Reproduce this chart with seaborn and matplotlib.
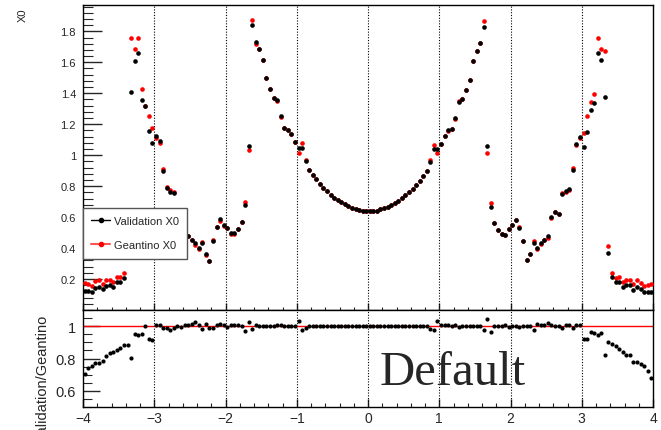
import numpy as np
import pandas as pd
import matplotlib
matplotlib.use("Agg")
import matplotlib.pyplot as plt
from matplotlib.lines import Line2D
from matplotlib.ticker import MultipleLocator, FuncFormatter
import seaborn as sns

# 160 bins of 0.05 in eta, from -4 to 4
bin_edges = np.linspace(-4, 4, 161)
eta = (bin_edges[:-1] + bin_edges[1:]) / 2

validation_x0 = [
    0.125, 0.125, 0.118, 0.144, 0.150, 0.133, 0.157, 0.163, 0.150, 0.183,
    0.183, 0.209, 0.380, 1.411, 1.606, 1.662, 1.359, 1.318, 1.153, 1.077,
    1.125, 1.090, 0.899, 0.787, 0.759, 0.753, 0.610, 0.620, 0.590, 0.480,
    0.454, 0.430, 0.398, 0.430, 0.359, 0.314, 0.447, 0.538, 0.585, 0.548,
    0.527, 0.495, 0.495, 0.523, 0.566, 0.675, 1.060, 1.841, 1.729, 1.684,
    1.613, 1.497, 1.430, 1.370, 1.357, 1.254, 1.178, 1.161, 1.138, 1.082,
    1.045, 1.049, 0.961, 0.905, 0.873, 0.843, 0.813, 0.789, 0.766, 0.743,
    0.725, 0.708, 0.695, 0.682, 0.671, 0.660, 0.652, 0.645, 0.641, 0.639,
    0.637, 0.639, 0.641, 0.652, 0.658, 0.667, 0.677, 0.690, 0.705, 0.723,
    0.740, 0.759, 0.783, 0.806, 0.834, 0.865, 0.897, 0.955, 1.041, 1.041,
    1.075, 1.127, 1.161, 1.170, 1.243, 1.344, 1.366, 1.421, 1.488, 1.606,
    1.673, 1.727, 1.826, 1.060, 0.667, 0.561, 0.514, 0.492, 0.486, 0.523,
    0.551, 0.583, 0.531, 0.447, 0.323, 0.361, 0.432, 0.400, 0.430, 0.454,
    0.477, 0.598, 0.632, 0.619, 0.748, 0.766, 0.781, 0.905, 1.069, 1.116,
    1.054, 1.150, 1.292, 1.338, 1.660, 1.617, 1.378, 0.370, 0.215, 0.183,
    0.181, 0.150, 0.159, 0.159, 0.131, 0.150, 0.135, 0.116, 0.116, 0.116,
]

geantino_x0 = [
    0.177, 0.169, 0.156, 0.186, 0.195, 0.169, 0.193, 0.195, 0.178, 0.214,
    0.212, 0.237, 0.431, 1.757, 1.686, 1.757, 1.430, 1.318, 1.254, 1.176,
    1.114, 1.079, 0.908, 0.794, 0.775, 0.763, 0.610, 0.625, 0.584, 0.477,
    0.449, 0.419, 0.394, 0.437, 0.354, 0.317, 0.451, 0.533, 0.576, 0.543,
    0.530, 0.492, 0.490, 0.520, 0.566, 0.697, 1.034, 1.871, 1.720, 1.684,
    1.613, 1.497, 1.430, 1.370, 1.350, 1.247, 1.178, 1.161, 1.138, 1.082,
    1.011, 1.077, 0.970, 0.905, 0.873, 0.843, 0.813, 0.789, 0.766, 0.743,
    0.725, 0.708, 0.695, 0.682, 0.671, 0.660, 0.652, 0.645, 0.641, 0.639,
    0.637, 0.639, 0.641, 0.652, 0.658, 0.667, 0.677, 0.690, 0.705, 0.723,
    0.740, 0.759, 0.783, 0.806, 0.834, 0.865, 0.897, 0.970, 1.067, 1.011,
    1.070, 1.121, 1.155, 1.170, 1.235, 1.352, 1.366, 1.421, 1.488, 1.606,
    1.673, 1.727, 1.867, 1.017, 0.692, 0.561, 0.514, 0.490, 0.483, 0.526,
    0.551, 0.583, 0.535, 0.447, 0.323, 0.361, 0.443, 0.394, 0.427, 0.450,
    0.467, 0.593, 0.632, 0.617, 0.757, 0.760, 0.775, 0.915, 1.064, 1.109,
    1.144, 1.252, 1.344, 1.398, 1.759, 1.684, 1.671, 0.411, 0.241, 0.209,
    0.211, 0.179, 0.194, 0.194, 0.168, 0.192, 0.176, 0.154, 0.160, 0.170,
]

df = pd.DataFrame({"eta": eta, "validation": validation_x0, "geantino": geantino_x0})
df["ratio"] = df["validation"] / df["geantino"]

sns.set_theme(style="ticks")
plt.rcParams["font.family"] = ["Liberation Sans", "DejaVu Sans"]


def fmt(v, pos):
    return f"{v:g}".replace("-", "\u2212")


fig = plt.figure(figsize=(6.61, 4.31), dpi=100)
ax_top = fig.add_axes([83 / 661, 1 - 311 / 431, 570 / 661, 305 / 431])
ax_bot = fig.add_axes([83 / 661, 1 - 408 / 431, 570 / 661, 97 / 431])

for ax in (ax_top, ax_bot):
    for x in range(-3, 4):
        ax.axvline(x, color="black", ls=(0, (1, 1.5)), lw=0.8, zorder=1)
    for sp in ax.spines.values():
        sp.set_linewidth(1.0)
        sp.set_color("black")
    ax.set_facecolor("white")
    ax.set_xlim(-4, 4)
    ax.xaxis.set_major_locator(MultipleLocator(1))
    ax.xaxis.set_minor_locator(MultipleLocator(0.2))

# top panel
sns.scatterplot(data=df, x="eta", y="geantino", color="red", s=11, linewidth=0,
                ax=ax_top, zorder=3)
sns.scatterplot(data=df, x="eta", y="validation", color="black", s=11, linewidth=0,
                ax=ax_top, zorder=4)
ax_top.set_ylim(0, 1.97)
ax_top.set_yticks([0.2, 0.4, 0.6, 0.8, 1.0, 1.2, 1.4, 1.6, 1.8])
ax_top.yaxis.set_minor_locator(MultipleLocator(0.04))
ax_top.yaxis.set_major_formatter(FuncFormatter(fmt))
ax_top.set_xticklabels([])
ax_top.set_xlabel("")
ax_top.set_ylabel("")
ax_top.tick_params(axis="y", which="major", direction="in", length=14, width=1,
                   labelsize=8, pad=5)
ax_top.tick_params(axis="y", which="minor", direction="in", length=7, width=0.8)
ax_top.tick_params(axis="x", which="major", direction="in", length=5, width=1)
ax_top.tick_params(axis="x", which="minor", direction="in", length=2.5, width=0.8)

handles = [
    Line2D([0], [0], color="black", lw=1, marker="o", markersize=3),
    Line2D([0], [0], color="#ff5555", lw=1.5, marker="o", markersize=3,
           markerfacecolor="red", markeredgecolor="red"),
]
leg = ax_top.legend(handles, ["Validation X0", "Geantino X0"], loc="upper left",
                    bbox_to_anchor=(0.0, (311 - 209) / 305), fontsize=8, frameon=True,
                    fancybox=False, edgecolor="#555555", framealpha=1,
                    handlelength=1.7, handletextpad=0.35, labelspacing=1.25,
                    borderpad=0.75, borderaxespad=0)
leg.get_frame().set_linewidth(1.0)
leg.set_zorder(10)

# ratio panel
ax_bot.axhline(1, color="red", lw=1, zorder=2)
sns.scatterplot(data=df, x="eta", y="ratio", color="black", s=9, linewidth=0,
                ax=ax_bot, zorder=4)
ax_bot.set_ylim(0.5, 1.1)
ax_bot.set_yticks([0.6, 0.8, 1.0])
ax_bot.yaxis.set_minor_locator(MultipleLocator(0.05))
ax_bot.yaxis.set_major_formatter(FuncFormatter(fmt))
ax_bot.xaxis.set_major_formatter(FuncFormatter(fmt))
ax_bot.set_xlabel("")
ax_bot.set_ylabel("")
ax_bot.tick_params(axis="y", which="major", direction="in", length=12, width=1,
                   labelsize=10.5, pad=5)
ax_bot.tick_params(axis="y", which="minor", direction="in", length=6.5, width=0.8)
ax_bot.tick_params(axis="x", which="major", direction="in", length=6, width=1,
                   labelsize=10, pad=3)
ax_bot.tick_params(axis="x", which="minor", direction="in", length=3, width=0.8)

fig.text(23 / 661, 1 - 9 / 431, "X0", rotation=90, ha="center", va="top", fontsize=8)
# the reference cuts this title at the lower edge of the figure
fig.text(43 / 661, 1 - 315 / 431, "Validation/Geantino", rotation=90, ha="center",
         va="top", fontsize=10.5)
fig.text(380 / 661, 1 - 385 / 431, "Default", fontsize=35, family="Liberation Serif",
         ha="left", va="baseline")

fig.savefig("out.png", dpi=100)
